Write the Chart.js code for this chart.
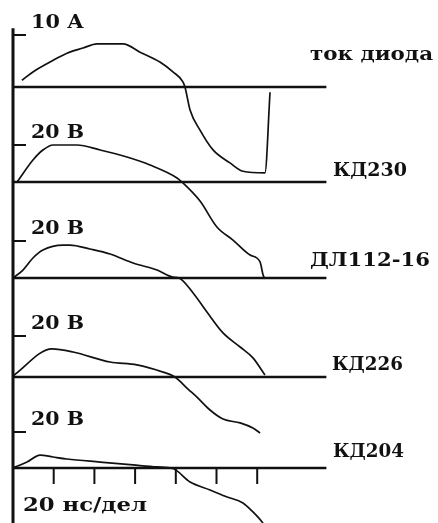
<!DOCTYPE html>
<html>
<head>
<meta charset="utf-8">
<script src="https://cdn.jsdelivr.net/npm/chart.js@4.4.1/dist/chart.umd.min.js"></script>
<style>
    html, body { margin: 0; padding: 0; background: #ffffff; }
    #wrap { width: 438px; height: 523px; }
</style>
</head>
<body>
<div id="wrap"><canvas id="scope"></canvas></div>
<script>
// time axis, ns (20 ns per division)
const timeTicks = [20, 40, 60, 80, 100, 120];
const baselineEnd = 154;

// diode current, A
const currentT = [4.4, 9.8, 18.2, 26.5, 34.4, 41.3, 54.1, 62.4, 72.2, 78.6, 83.5, 84.5, 87.0, 91.9, 98.3, 106.6, 113.0, 123.8, 126.3];
const currentA = [1.3, 2.9, 4.8, 6.5, 7.5, 8.3, 8.3, 6.7, 4.8, 2.9, 1.0, 0, -4.4, -8.3, -12.1, -14.6, -16.2, -16.5, -1.0];

// КД230 voltage, V
const kd230T = [2.0, 9.8, 14.7, 19.7, 31.4, 42.8, 56.0, 67.3, 80.6, 83.0, 91.9, 100.2, 108.1, 116.5, 121.4, 122.9, 123.8];
const kd230V = [0, 11.9, 17.3, 20.0, 20.0, 17.3, 13.5, 9.2, 2.2, 0, -10.3, -24.3, -31.4, -39.5, -43.2, -50.3, -52.4];

// ДЛ112-16 voltage, V
const dl112T = [0, 4.9, 9.8, 14.7, 24.6, 28.0, 37.8, 47.7, 59.0, 70.8, 78.6, 81.6, 88.5, 95.3, 103.2, 111.6, 117.9, 123.8];
const dl112V = [0, 4.3, 10.8, 15.1, 17.8, 17.8, 15.7, 13.0, 8.1, 4.3, 0.5, 0, -8.1, -18.4, -29.7, -37.3, -43.2, -52.4];

// КД226 voltage, V
const kd226T = [0, 19.2, 29.5, 47.7, 60.9, 73.7, 79.6, 86.0, 90.4, 96.8, 103.2, 111.6, 117.9, 121.4];
const kd226V = [0.5, 13.7, 12.2, 7.3, 5.9, 2.4, 0, -5.9, -9.8, -16.1, -20.5, -22.4, -24.9, -27.3];

// КД204 voltage, V
const kd204T = [0, 6.9, 13.3, 19.7, 26.5, 42.8, 59.0, 70.8, 78.6, 87.0, 96.8, 105.2, 113.0, 117.9, 122.4, 124.3];
const kd204V = [0, 3.3, 7.2, 6.1, 5.0, 3.3, 1.7, 0.6, -0.3, -7.8, -12.2, -16.1, -19.4, -24.4, -30.0, -33.3];

const ink = '#111111';
const H = 523;
const pxPerNs = 40.7 / 20;
const x0Px = 13;

// panel layout: where each trace's zero line sits and how tall a unit is
const panels = [
    { name: 'ток диода', unit: '10 А', mark: 10, t: currentT, v: currentA, zeroPx: 87,  pxPerUnit: 5.2,  nameX: 310, nameGap: 27, nameW: 123 },
    { name: 'КД230',     unit: '20 В', mark: 20, t: kd230T,   v: kd230V,   zeroPx: 182, pxPerUnit: 1.85, nameX: 333, nameGap: 6,  nameW: 74 },
    { name: 'ДЛ112-16',  unit: '20 В', mark: 20, t: dl112T,   v: dl112V,   zeroPx: 278, pxPerUnit: 1.85, nameX: 310, nameGap: 12, nameW: 120 },
    { name: 'КД226',     unit: '20 В', mark: 20, t: kd226T,   v: kd226V,   zeroPx: 377, pxPerUnit: 2.05, nameX: 332, nameGap: 7,  nameW: 71 },
    { name: 'КД204',     unit: '20 В', mark: 20, t: kd204T,   v: kd204V,   zeroPx: 468, pxPerUnit: 1.8,  nameX: 333, nameGap: 11, nameW: 71 }
];

function drawFitted(ctx, text, x, y, width, font) {
    ctx.font = font;
    const w = ctx.measureText(text).width;
    ctx.save();
    ctx.translate(x, y);
    ctx.scale(width / w, 1);
    ctx.fillText(text, 0, 0);
    ctx.restore();
}

const scopeDecor = {
    id: 'scopeDecor',
    afterDatasetsDraw(chart) {
        const ctx = chart.ctx;
        const xs = chart.scales.x;
        const x0 = xs.getPixelForValue(0);
        ctx.save();
        ctx.strokeStyle = ink;
        ctx.fillStyle = ink;
        ctx.lineCap = 'butt';

        // left vertical line
        ctx.lineWidth = 3;
        ctx.beginPath();
        ctx.moveTo(x0, chart.scales.y0.getPixelForValue(11.3));
        ctx.lineTo(x0, chart.chartArea.bottom);
        ctx.stroke();

        // level marks and labels
        ctx.textBaseline = 'alphabetic';
        panels.forEach((p, i) => {
            const ys = chart.scales['y' + i];
            const my = ys.getPixelForValue(p.mark);
            ctx.lineWidth = 2;
            ctx.beginPath();
            ctx.moveTo(x0, my);
            ctx.lineTo(x0 + 13, my);
            ctx.stroke();
            drawFitted(ctx, p.unit, x0 + 18, my - 7, 53, 'bold 18px "DejaVu Serif"');
            const zy = ys.getPixelForValue(0);
            drawFitted(ctx, p.name, p.nameX, zy - p.nameGap, p.nameW, 'bold 19px "DejaVu Serif"');
        });

        // time ticks on the bottom zero line
        const yb = chart.scales.y4.getPixelForValue(0);
        ctx.lineWidth = 2;
        timeTicks.forEach(t => {
            const px = xs.getPixelForValue(t);
            ctx.beginPath();
            ctx.moveTo(px, yb);
            ctx.lineTo(px, yb + 16);
            ctx.stroke();
        });
        drawFitted(ctx, '20 нс/дел', x0 + 10, yb + 43, 124, 'bold 19px "DejaVu Serif"');
        ctx.restore();
    }
};

const datasets = [];
const scales = {
    x: { type: 'linear', display: false, min: -x0Px / pxPerNs, max: (438 - x0Px) / pxPerNs }
};
panels.forEach((p, i) => {
    const id = 'y' + i;
    scales[id] = {
        type: 'linear',
        display: false,
        min: -(H - p.zeroPx) / p.pxPerUnit,
        max: p.zeroPx / p.pxPerUnit
    };
    datasets.push({
        data: [{ x: 0, y: 0 }, { x: baselineEnd, y: 0 }],
        yAxisID: id,
        borderColor: ink,
        borderWidth: 2.3,
        pointRadius: 0,
        clip: false
    });
    datasets.push({
        data: p.t.map((t, k) => ({ x: t, y: p.v[k] })),
        yAxisID: id,
        borderColor: ink,
        borderWidth: 1.7,
        pointRadius: 0,
        cubicInterpolationMode: 'monotone',
        clip: false
    });
});

new Chart(document.getElementById('scope'), {
    type: 'line',
    data: { datasets: datasets },
    options: {
        responsive: true,
        maintainAspectRatio: false,
        animation: false,
        layout: { padding: 0 },
        plugins: {
            legend: { display: false },
            tooltip: { enabled: false }
        },
        scales: scales
    },
    plugins: [scopeDecor]
});
</script>
</body>
</html>
